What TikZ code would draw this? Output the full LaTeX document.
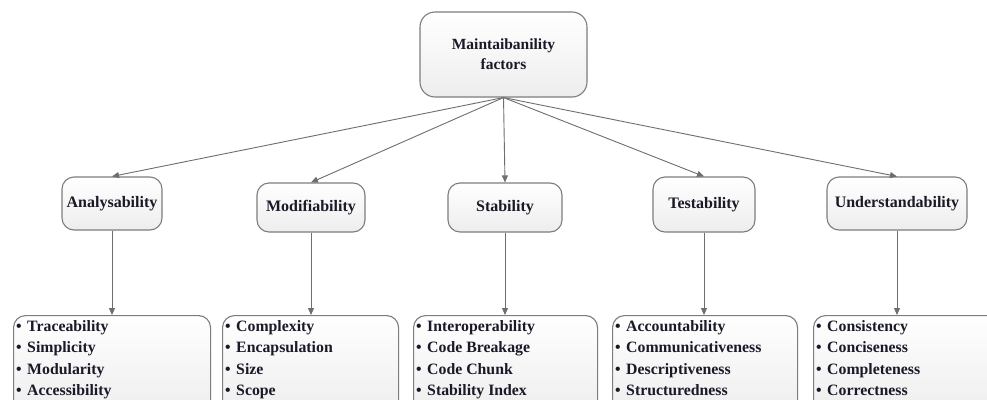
\documentclass[tikz,border=0pt]{standalone}
\usepackage{fontspec}
\setmainfont{Liberation Serif}
\usetikzlibrary{arrows.meta,calc}
\definecolor{bordc}{RGB}{125,125,125}
\definecolor{arrc}{RGB}{110,110,110}
\definecolor{txtc}{RGB}{25,25,40}
\newcommand{\bul}{\textbullet\hspace{5.5pt}}
\tikzset{
  box/.style={draw=bordc, line width=1.1pt, rounded corners=12pt, top color=white, bottom color=gray!14, inner sep=0pt},
  topbox/.style={box, rounded corners=15pt},
  lbl/.style={font=\fontsize{15.5}{20}\selectfont\bfseries, text=txtc, align=center},
  midlbl/.style={font=\fontsize{16}{20}\selectfont\bfseries, text=txtc, align=center},
  listtxt/.style={font=\fontsize{15.8}{21.3}\selectfont\bfseries, text=txtc, align=left, inner sep=0pt},
  arr/.style={draw=arrc, line width=0.9pt, -{Triangle[length=7pt,width=6pt]}}
}
\begin{document}
\begin{tikzpicture}[x=1pt,y=-1pt]
\clip (0,0) rectangle (987,399);
\fill[white] (0,0) rectangle (987,399);
% top
\node[topbox, minimum width=167, minimum height=85] (top) at (503.5,54.5) {};
\node[lbl] (toplbl) at (top.center) {Maintaibanility\\factors};
% middle
\node[box, minimum width=100, minimum height=53] (ana) at (112,203.5) {};
\node[midlbl] (analbl) at (ana.center) {Analysability};
\node[box, minimum width=108, minimum height=49] (mod) at (311,207.5) {};
\node[midlbl] (modlbl) at (mod.center) {Modifiability};
\node[box, minimum width=114, minimum height=49] (sta) at (505,207.5) {};
\node[midlbl] (stalbl) at (sta.center) {Stability};
\node[box, minimum width=102, minimum height=55] (tes) at (704,204.5) {};
\node[midlbl] (teslbl) at (tes.center) {Testability};
\node[box, minimum width=140, minimum height=53] (und) at (897,203.5) {};
\node[midlbl] (undlbl) at (und.center) {Understandability};
% bottom
\node[box, minimum width=197, minimum height=100, anchor=north west] (b1) at (13,315) {};
\node[box, minimum width=176, minimum height=100, anchor=north west] (b2) at (222,315) {};
\node[box, minimum width=184, minimum height=100, anchor=north west] (b3) at (413,315) {};
\node[box, minimum width=185, minimum height=100, anchor=north west] (b4) at (612,315) {};
\node[box, minimum width=190, minimum height=100, anchor=north west] (b5) at (813,315) {};
\node[listtxt, anchor=north west] (t1) at ($(b1.north west)+(3,5.5)$) {\bul Traceability\\\bul Simplicity\\\bul Modularity\\\bul Accessibility};
\node[listtxt, anchor=north west] (t2) at ($(b2.north west)+(3,5.5)$) {\bul Complexity\\\bul Encapsulation\\\bul Size\\\bul Scope};
\node[listtxt, anchor=north west] (t3) at ($(b3.north west)+(3,5.5)$) {\bul Interoperability\\\bul Code Breakage\\\bul Code Chunk\\\bul Stability Index};
\node[listtxt, anchor=north west] (t4) at ($(b4.north west)+(3,5.5)$) {\bul Accountability\\\bul Communicativeness\\\bul Descriptiveness\\\bul Structuredness};
\node[listtxt, anchor=north west] (t5) at ($(b5.north west)+(3,5.5)$) {\bul Consistency\\\bul Conciseness\\\bul Completeness\\\bul Correctness};
% arrows
\draw[arr] (top.south) -- (ana.north);
\draw[arr] (top.south) -- (mod.north);
\draw[arr] (top.south) -- (sta.north);
\draw[arr] (top.south) -- (tes.north);
\draw[arr] (top.south) -- (und.north);
\draw[arr] (ana.south) -- (ana.south |- b1.north);
\draw[arr] (mod.south) -- (mod.south |- b2.north);
\draw[arr] (sta.south) -- (sta.south |- b3.north);
\draw[arr] (tes.south) -- (tes.south |- b4.north);
\draw[arr] (und.south) -- (und.south |- b5.north);
\end{tikzpicture}
\end{document}
